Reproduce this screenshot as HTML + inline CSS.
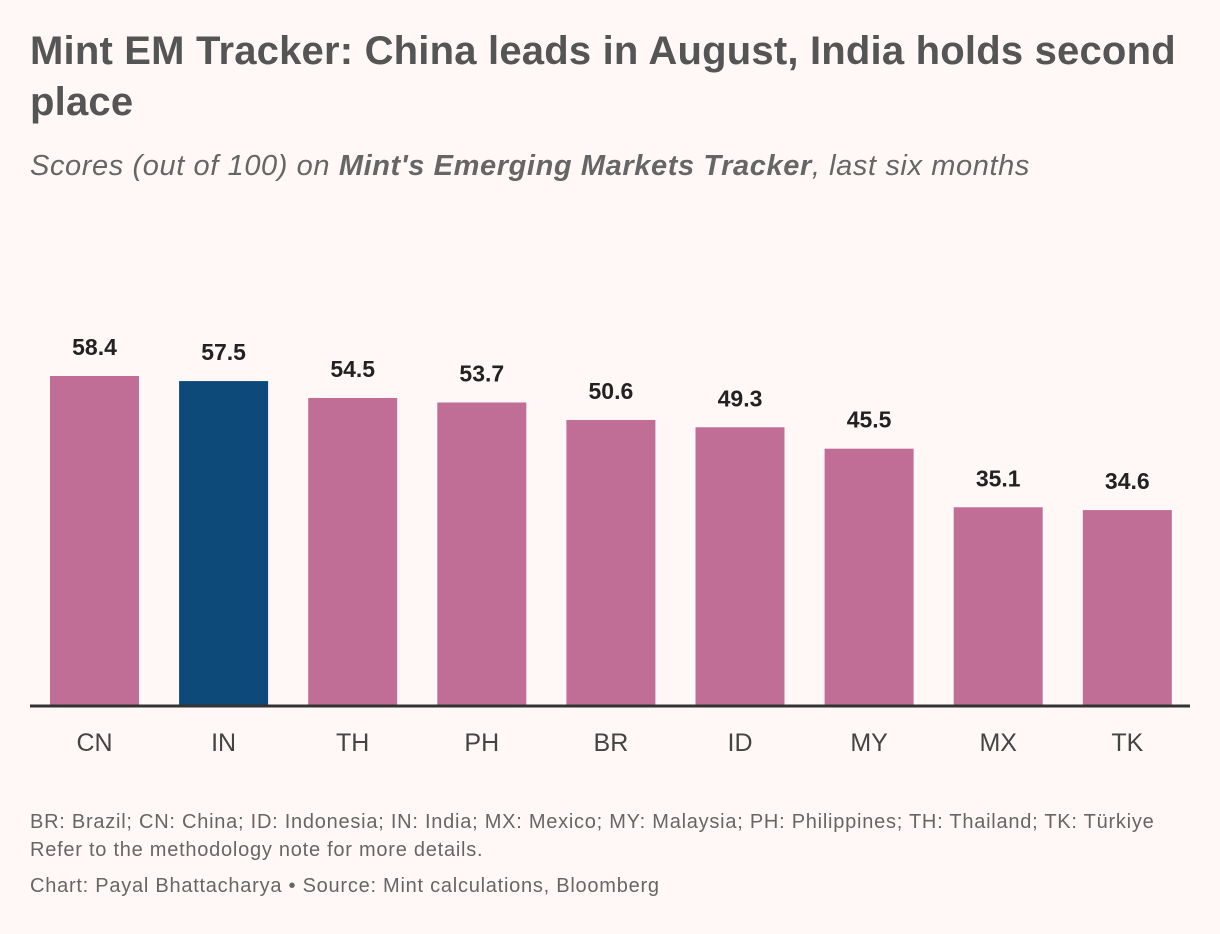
<!DOCTYPE html>
<html><head><meta charset="utf-8"><style>
body{margin:0;background:#fff8f7;width:1220px;height:934px;overflow:hidden;font-family:"Liberation Sans",sans-serif}
.t{position:absolute;left:30px;top:26px;width:1180px;font-size:40px;font-weight:bold;color:#555;line-height:51px;letter-spacing:0.2px}
.s{position:absolute;left:30px;top:150px;font-size:29px;font-style:italic;color:#666;letter-spacing:0.6px}
.f{position:absolute;left:30px;font-size:20px;color:#666;letter-spacing:0.75px}
</style></head><body>
<div class="t">Mint EM Tracker: China leads in August, India holds second place</div>
<div class="s">Scores (out of 100) on <b>Mint's Emerging Markets Tracker</b>, last six months</div>
<svg id="c" width="1220" height="934" style="position:absolute;left:0;top:0"></svg>
<div class="f" style="top:811px">BR: Brazil; CN: China; ID: Indonesia; IN: India; MX: Mexico; MY: Malaysia; PH: Philippines; TH: Thailand; TK: Türkiye</div>
<div class="f" style="top:839px">Refer to the methodology note for more details.</div>
<div class="f" style="top:875px">Chart: Payal Bhattacharya • Source: Mint calculations, Bloomberg</div>
<script>
const categories=["CN","IN","TH","PH","BR","ID","MY","MX","TK"];
const values=[58.4,57.5,54.5,53.7,50.6,49.3,45.5,35.1,34.6];
const highlight=["IN"];
const NS="http://www.w3.org/2000/svg",svg=document.getElementById('c');
const base=705,k=329/58.4,x0=50,step=129.1,bw=89;
const y=v=>base-v*k, x=i=>x0+i*step;
function mk(t,a){const e=document.createElementNS(NS,t);for(const n in a)e.setAttribute(n,a[n]);svg.appendChild(e);return e;}
categories.forEach((c,i)=>{
 const r=mk('rect',{x:x(i),y:y(values[i]),width:bw,height:base-y(values[i]),fill:highlight.includes(c)?'#0d4a79':'#c06e96'});
 
 
 const l=mk('text',{x:x(i)+bw/2,y:y(values[i])-21,'text-anchor':'middle','font-size':23,'font-weight':'bold',fill:'#222','font-family':'Liberation Sans'});
 l.textContent=values[i].toFixed(1);
 
 
 const t=mk('text',{x:x(i)+bw/2,y:751,'text-anchor':'middle','font-size':25,fill:'#444','font-family':'Liberation Sans'});
 t.textContent=c;
 
 
});
const ax=mk('line',{x1:30,x2:1190,y1:base+1,y2:base+1,stroke:'#333','stroke-width':3});


</script>
</body></html>
